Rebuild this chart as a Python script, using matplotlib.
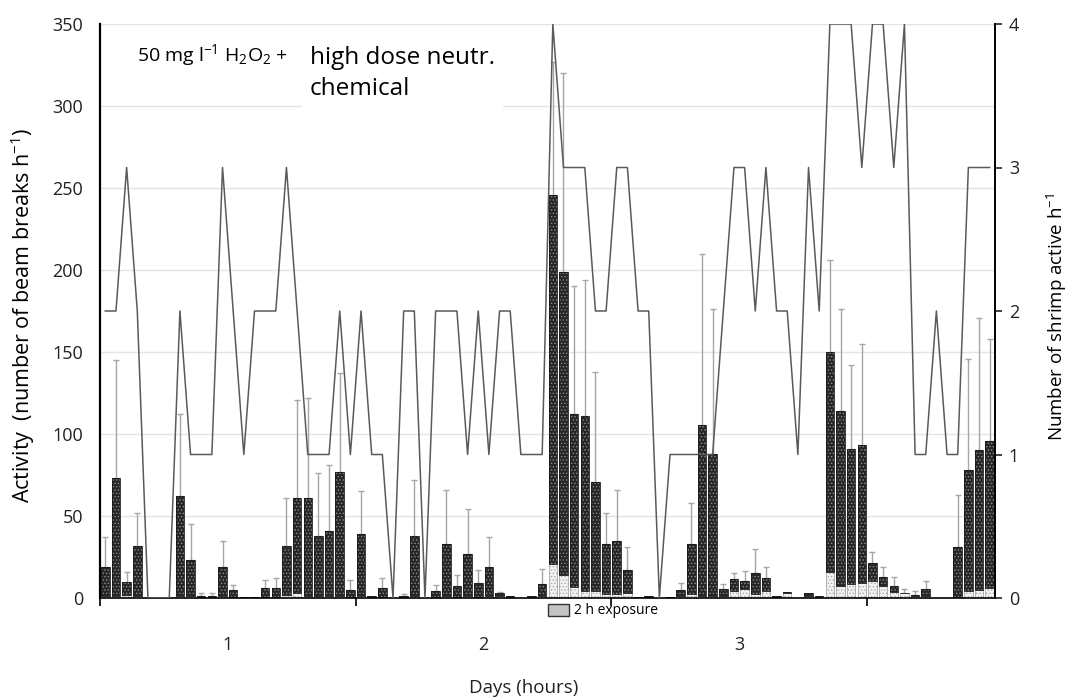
import numpy as np
import matplotlib
matplotlib.use("Agg")
import matplotlib.pyplot as plt
from matplotlib.patches import Patch

plt.rcParams['font.family'] = ['Open Sans', 'DejaVu Sans']
plt.rcParams['mathtext.default'] = 'regular'
plt.rcParams['hatch.linewidth'] = 0.6

# ---- data (hourly, 84 hours) ----
total = [18.7, 73, 9.8, 32, 0, 0, 0, 62, 23, 1.5, 1.5, 19, 4.7, 0.6, 0.8, 6, 6.3, 32, 61, 61, 38, 41, 77, 5,
         39, 1, 6.3, 0, 1, 38, 0, 4.3, 33, 7.5, 27, 9.3, 19, 2.8, 1.4, 0.3, 1, 8.7, 246, 199, 112, 111, 71, 33,
         35, 17, 0.6, 1, 0, 0.4, 4.9, 33, 105.5, 88, 5.3, 11.4, 10.4, 15.4, 12, 1, 3.5, 0.3, 3, 1, 150, 114, 91, 93,
         21.5, 13, 7.5, 3.3, 2, 5.3, 0, 0, 31, 78, 90, 96]
light = [1.5, 1.5, 2, 1.5, 0, 0, 0, 1.5, 1, 0.5, 0.5, 1, 0.5, 0.3, 0.3, 0.8, 0.8, 2, 3, 1.5, 1, 1, 1.5, 0.5,
         1.5, 0.3, 0.8, 0, 0.3, 1, 0, 0.5, 1, 0.8, 1, 0.8, 1, 1.5, 0.5, 0, 0.3, 1, 21, 14, 7, 4.5, 4.3, 2.4,
         2.4, 2.8, 0.3, 0.5, 0, 0.2, 1.5, 2.4, 1.5, 1.5, 1.5, 4.5, 5.3, 2.4, 4, 0.5, 3, 0.2, 1, 0.5, 16, 7.5, 8.7, 9.3,
         10.6, 7.5, 3.5, 2.8, 1.5, 1, 0, 0, 0.5, 4.3, 5, 6]
nan = np.nan
err_top = [37, 145, 16, 52, nan, nan, nan, 112, 45, 3, 3, 35, 8, nan, nan, 11, 12, 61, 121, 122, 76, 81, 137, 11,
           65, nan, 12, nan, 2.5, 72, nan, 8, 66, 14, 54, 17, 37, 3.6, nan, nan, nan, 17.5, 327, 320, 190, 194, 138, 52,
           66, 31, nan, nan, nan, nan, 9.3, 58, 210, 176, 8.5, 15.4, 16.5, 30, 18.7, nan, nan, nan, nan, nan, 206, 176, 142, 155,
           28, 18.7, 13, 5.3, 4, 10.4, nan, nan, 63, 146, 171, 158]
shrimp = [2, 2, 3, 2, 0, 0, 0, 2, 1, 1, 1, 3, 2, 1, 2, 2, 2, 3, 2, 1, 1, 1, 2, 1,
          2, 1, 1, 0, 2, 2, 0, 2, 2, 2, 1, 2, 1, 2, 2, 1, 1, 1, 4, 3, 3, 3, 2, 2,
          3, 3, 2, 2, 0, 1, 1, 1, 1, 1, 2, 3, 3, 2, 3, 2, 2, 1, 3, 2, 4, 4, 4, 3,
          4, 4, 3, 4, 1, 1, 2, 1, 1, 3, 3, 3]
day_labels = ['1', '2', '3']

total = np.array(total, float)
light = np.array(light, float)
err_top = np.array(err_top, float)
dark = total - light
hours = np.arange(len(total)) + 0.5

fig = plt.figure(figsize=(10.71, 6.99), dpi=100)
ax = fig.add_axes([100/1071, 1-598/699, 895/1071, 574/699])

ax.set_xlim(0, 84)
ax.set_ylim(0, 350)
ax.set_yticks(np.arange(0, 351, 50))
ax.yaxis.grid(True, color='#e3e3e3', linewidth=1.0, linestyle='-')
ax.set_axisbelow(True)

w = 0.8
ax.bar(hours, light, width=w, facecolor='#f2f2f2', edgecolor='#a8a8a8', hatch='.....', linewidth=0.6, zorder=2)
ax.bar(hours, dark, bottom=light, width=w, facecolor='#262626', edgecolor='#8c8c8c', hatch='.....', linewidth=0.0, zorder=2)
ax.bar(hours, dark, bottom=light, width=w, facecolor='none', edgecolor='#1a1a1a', linewidth=0.6, zorder=2.1)

upper = err_top - total
mask = ~np.isnan(upper)
ax.errorbar(hours[mask], total[mask], yerr=[np.zeros(mask.sum()), upper[mask]], fmt='none',
            ecolor='#a6a6a6', elinewidth=1.0, capsize=2.5, capthick=1.0, zorder=1.5)

for s in ['top', 'right']:
    ax.spines[s].set_visible(False)
ax.spines['left'].set_linewidth(1.6)
ax.spines['bottom'].set_linewidth(1.2)
ax.tick_params(axis='y', length=0, labelsize=13, colors='#222222', pad=12)
ax.set_xticks([0, 24, 48, 72])
ax.set_xticklabels([])
ax.tick_params(axis='x', which='major', length=6, width=1.2, direction='out')
ax.set_xticks([12, 36, 60], minor=True)
ax.set_xticklabels(day_labels, minor=True)
ax.tick_params(axis='x', which='minor', length=0, pad=27, labelsize=13, colors='#222222')
ax.set_ylabel('Activity  (number of beam breaks h$^{-1}$)', fontsize=15.5)
ax.yaxis.set_label_coords(-63/895, 0.493)
fig.text(524/1071, 1-688/699, 'Days (hours)', fontsize=13.5, ha='center', va='center', color='#222222')

ax2 = ax.twinx()
ax2.plot(hours, shrimp, color='#5a5a5a', linewidth=1.1, zorder=3)
ax2.set_ylim(0, 4)
ax2.set_yticks([0, 1, 2, 3, 4])
for s in ['top', 'left', 'bottom']:
    ax2.spines[s].set_visible(False)
ax2.spines['right'].set_linewidth(1.4)
ax2.tick_params(axis='y', length=5, width=1.2, direction='out', labelsize=13, pad=5, colors='#222222')
ax2.set_ylabel('Number of shrimp active h$^{-1}$', fontsize=13.5)
ax2.yaxis.set_label_coords(1 + 50/895, 0.49)

ax.text(3.5, 331, '50 mg l$^{-1}$ H$_2$O$_2$ +', fontsize=14, va='center', ha='left', zorder=5)
ax.text(19.7, 320, 'high dose neutr.\nchemical', fontsize=17.5, va='center', ha='left', zorder=5,
        linespacing=1.4,
        bbox=dict(facecolor='white', edgecolor='none', pad=6))

fig.legend(handles=[Patch(facecolor='#c4c4c4', edgecolor='#333333', linewidth=1.0)], labels=['2 h exposure'],
           loc='center left', bbox_to_anchor=(548/1071, 1-611/699), frameon=False, fontsize=10,
           handlelength=1.5, handleheight=1.0, handletextpad=0.4, borderpad=0, borderaxespad=0)

fig.savefig('out.png', dpi=100)
